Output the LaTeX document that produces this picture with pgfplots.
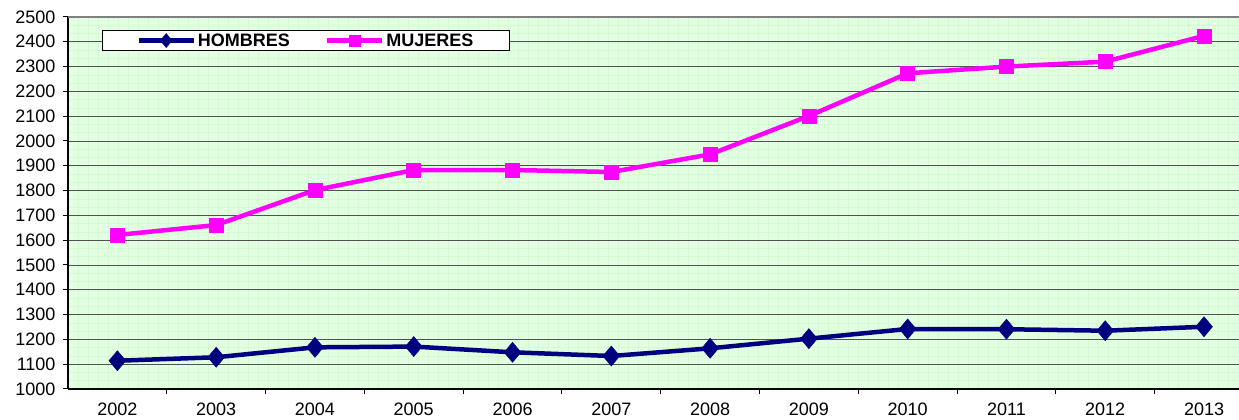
\documentclass[border=0pt]{standalone}
\usepackage{fontspec}
\setmainfont{Liberation Sans}
\usepackage{pgfplots}
\pgfplotsset{compat=1.18}
\definecolor{navyc}{RGB}{0,0,128}
\definecolor{magc}{RGB}{255,0,255}
\definecolor{bgc}{RGB}{226,255,226}
\definecolor{fgc}{RGB}{212,250,212}
\begin{document}
\begin{tikzpicture}
\useasboundingbox (-68pt,-31pt) rectangle (1171pt,389pt);
\fill[bgc] (0,0) rectangle (1171pt,372pt);
\draw[fgc,line width=0.5pt,xstep=10pt,ystep=8.267pt] (0,0) grid (1171pt,372pt);
\begin{axis}[
  at={(0,0)}, anchor=south west,
  scale only axis, width=1171pt, height=372pt,
  xmin=-0.5, xmax=11.354, ymin=1000, ymax=2500,
  axis x line*=bottom, axis y line*=left,
  axis line style={-, black, line width=1.6pt},
  tick align=outside, major tick length=5pt,
  ytick={1000,1100,...,2500},
  ytick style={black, line width=1pt},
  yticklabel style={xshift=-4pt, /pgf/number format/1000 sep={}},
  xtick={0,...,11},
  xticklabels={2002,2003,2004,2005,2006,2007,2008,2009,2010,2011,2012,2013},
  xtick style={draw=none},
  xticklabel style={yshift=-5pt},
  extra x ticks={0.5,1.5,...,10.5},
  extra x tick labels={},
  extra x tick style={xtick style={draw=black, line width=1pt}},
  tick label style={font=\fontsize{18}{20}\selectfont},
  /pgf/number format/assume math mode=true,
  ymajorgrids, grid style={black!68, line width=0.8pt},
  legend style={draw=black, line width=1pt, fill=white,
    at={(0.029,0.965)}, anchor=north west,
    font=\fontsize{18}{20}\selectfont\bfseries,
    inner xsep=34pt, inner ysep=1pt,
    nodes={inner sep=2pt},
    /tikz/every odd column/.append style={column sep=0pt},
    /tikz/every even column/.append style={column sep=33pt}},
  legend columns=2,
]
\addplot[navyc, line width=4.5pt, mark=diamond*, mark size=10pt,
  mark options={solid, line width=0.5pt, xscale=1.12},
  legend image code/.code={
    \draw[navyc,line width=4.5pt] (0pt,0pt) -- (55pt,0pt);
    \draw[navyc, fill=navyc, line width=0.5pt, mark=diamond*, mark size=7pt, mark options={xscale=1.12}] plot coordinates {(27.5pt,0pt)};}]
coordinates {(0,1114) (1,1128) (2,1168) (3,1171) (4,1148) (5,1133) (6,1164) (7,1203) (8,1242) (9,1241) (10,1235) (11,1251)};
\addlegendentry{HOMBRES}
\addplot[magc, line width=4.5pt, mark=square*, mark size=7pt,
  mark options={solid, line width=0.5pt},
  legend image code/.code={
    \draw[magc,line width=4.5pt] (0pt,0pt) -- (55pt,0pt);
    \draw[magc, fill=magc, line width=0.5pt, mark=square*, mark size=5.5pt] plot coordinates {(27.5pt,0pt)};}]
coordinates {(0,1621) (1,1661) (2,1802) (3,1883) (4,1883) (5,1875) (6,1946) (7,2101) (8,2273) (9,2300) (10,2320) (11,2424)};
\addlegendentry{MUJERES}
\draw[black!50, line width=2pt] (rel axis cs:0,1) -- (rel axis cs:1,1);
\end{axis}
\end{tikzpicture}
\end{document}
